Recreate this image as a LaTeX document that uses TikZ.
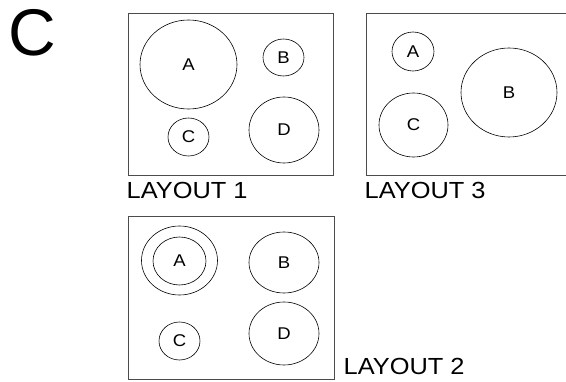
\documentclass[tikz,border=0pt]{standalone}
\usepackage{fontspec}
\setmainfont{Liberation Sans}
\usetikzlibrary{shapes.geometric}
\newcommand\widetext[1]{\scalebox{1.09}[1]{#1}}
\tikzset{
  zone/.style={draw, ellipse, line width=0.6pt, inner sep=0pt, font=\fontsize{17}{19}\selectfont},
  tray/.style={draw=black!70, line width=0.8pt},
  caption/.style={anchor=base west, inner sep=0pt, font=\fontsize{23.3}{26}\selectfont}
}
\begin{document}
\begin{tikzpicture}[x=1pt, y=-1pt]
      \useasboundingbox (0,0) rectangle (566,382);
      \clip (0,0) rectangle (566,382);
      \node[inner sep=0pt, font=\fontsize{66}{70}\selectfont] (panel) at (32,33) {C};

      % layout 1
      \draw[tray] (128,13) rectangle (333,175);
      \node[zone, minimum width=97pt, minimum height=89pt] (l1a) at (188.5,64.5) {\widetext{A}};
      \node[zone, minimum width=41pt, minimum height=37pt] (l1b) at (283.5,57.5) {\widetext{B}};
      \node[zone, minimum width=41pt, minimum height=38pt] (l1c) at (188.5,137) {\widetext{C}};
      \node[zone, minimum width=70pt, minimum height=66pt] (l1d) at (284,130) {\widetext{D}};
      \node[caption] (cap1) at (126.5,198.5) {\widetext{LAYOUT 1}};

      % layout 3
      \draw[tray] (366,13) rectangle (572,175);
      \node[zone, minimum width=42pt, minimum height=39pt] (l3a) at (413,51.5) {\widetext{A}};
      \node[zone, minimum width=96pt, minimum height=89pt] (l3b) at (509,92.5) {\widetext{B}};
      \node[zone, minimum width=69pt, minimum height=64pt] (l3c) at (413.5,125) {\widetext{C}};
      \node[caption] (cap3) at (364.5,198.5) {\widetext{LAYOUT 3}};

      % layout 2
      \draw[tray] (128,216) rectangle (334,379);
      \node[zone, minimum width=76pt, minimum height=69pt] (l2ring) at (179.5,260.5) {};
      \node[zone, minimum width=53pt, minimum height=48pt] (l2a) at (179.5,261) {\widetext{A}};
      \node[zone, minimum width=70pt, minimum height=61pt] (l2b) at (284,262.5) {\widetext{B}};
      \node[zone, minimum width=41pt, minimum height=38pt] (l2c) at (179.5,341) {\widetext{C}};
      \node[zone, minimum width=70pt, minimum height=63pt] (l2d) at (284,333.5) {\widetext{D}};
      \node[caption] (cap2) at (343.5,375) {\widetext{LAYOUT 2}};
    \end{tikzpicture}
\end{document}
